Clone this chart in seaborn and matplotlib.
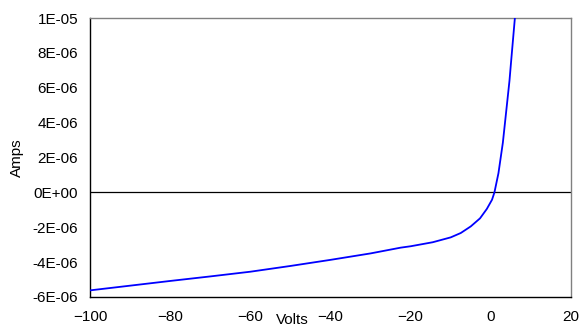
#!/usr/bin/env python3
"""Diode I-V curve: current (Amps) vs bias (Volts)."""

import matplotlib
matplotlib.use("Agg")
import matplotlib.pyplot as plt
import matplotlib.ticker as mticker
import seaborn as sns
import pandas as pd

# values (current in units of 1e-6 A)
volts = [-100, -90, -80, -70, -60, -50, -40, -30, -22.5, -20, -14.5, -10,
         -7.5, -5, -2.7, -1, 0.3, 0.9, 1.9, 3, 4, 4.65, 5, 6]
micro_amps = [-5.62, -5.35, -5.08, -4.82, -4.55, -4.22, -3.87, -3.50, -3.17,
              -3.09, -2.86, -2.58, -2.33, -1.95, -1.49, -0.95, -0.42,
              0.0, 1.1, 2.85, 5.0, 6.4, 7.35, 10.0]
x_ticks = [-100, -80, -60, -40, -20, 0, 20]
y_ticks = [-6e-6, -4e-6, -2e-6, 0, 2e-6, 4e-6, 6e-6, 8e-6, 1e-5]

df = pd.DataFrame({"Volts": volts, "Amps": [v * 1e-6 for v in micro_amps]})

sns.set_style("white")
plt.rcParams["font.family"] = ["Liberation Sans", "DejaVu Sans"]
plt.rcParams["font.size"] = 11
plt.rcParams["text.color"] = "black"

fig = plt.figure(figsize=(5.81, 3.28), dpi=100)
ax = fig.add_axes([90 / 581, 1 - 297 / 328, 481 / 581, 279 / 328])

ax.axhline(0, color="black", lw=0.9, zorder=1)
sns.lineplot(data=df, x="Volts", y="Amps", ax=ax, color="#0000FF", lw=1.3,
             zorder=3)

ax.set_xlim(-100, 20)
ax.set_ylim(-6e-6, 1e-5)
ax.set_xticks(x_ticks)
ax.set_yticks(y_ticks)
ax.yaxis.set_major_formatter(mticker.FuncFormatter(lambda v, _: f"{v:.0E}"))
ax.tick_params(axis="both", direction="in", length=5, width=0.8,
               colors="black", labelcolor="black", labelsize=11)
ax.tick_params(axis="y", pad=8.5)
ax.tick_params(axis="x", pad=9.5)

for side in ["left", "bottom"]:
    ax.spines[side].set_color("black")
    ax.spines[side].set_linewidth(1.0)
for side in ["top", "right"]:
    ax.spines[side].set_color("#808080")
    ax.spines[side].set_linewidth(1.0)

ax.set_xlabel("")
ax.set_ylabel("")
fig.text(292 / 581, 1 - 320 / 328, "Volts", ha="center", va="center",
         fontsize=11, color="black")
fig.text(17 / 581, 1 - 158 / 328, "Amps", ha="center", va="center",
         rotation=90, fontsize=11, color="black")

fig.savefig("out.png", dpi=100)
